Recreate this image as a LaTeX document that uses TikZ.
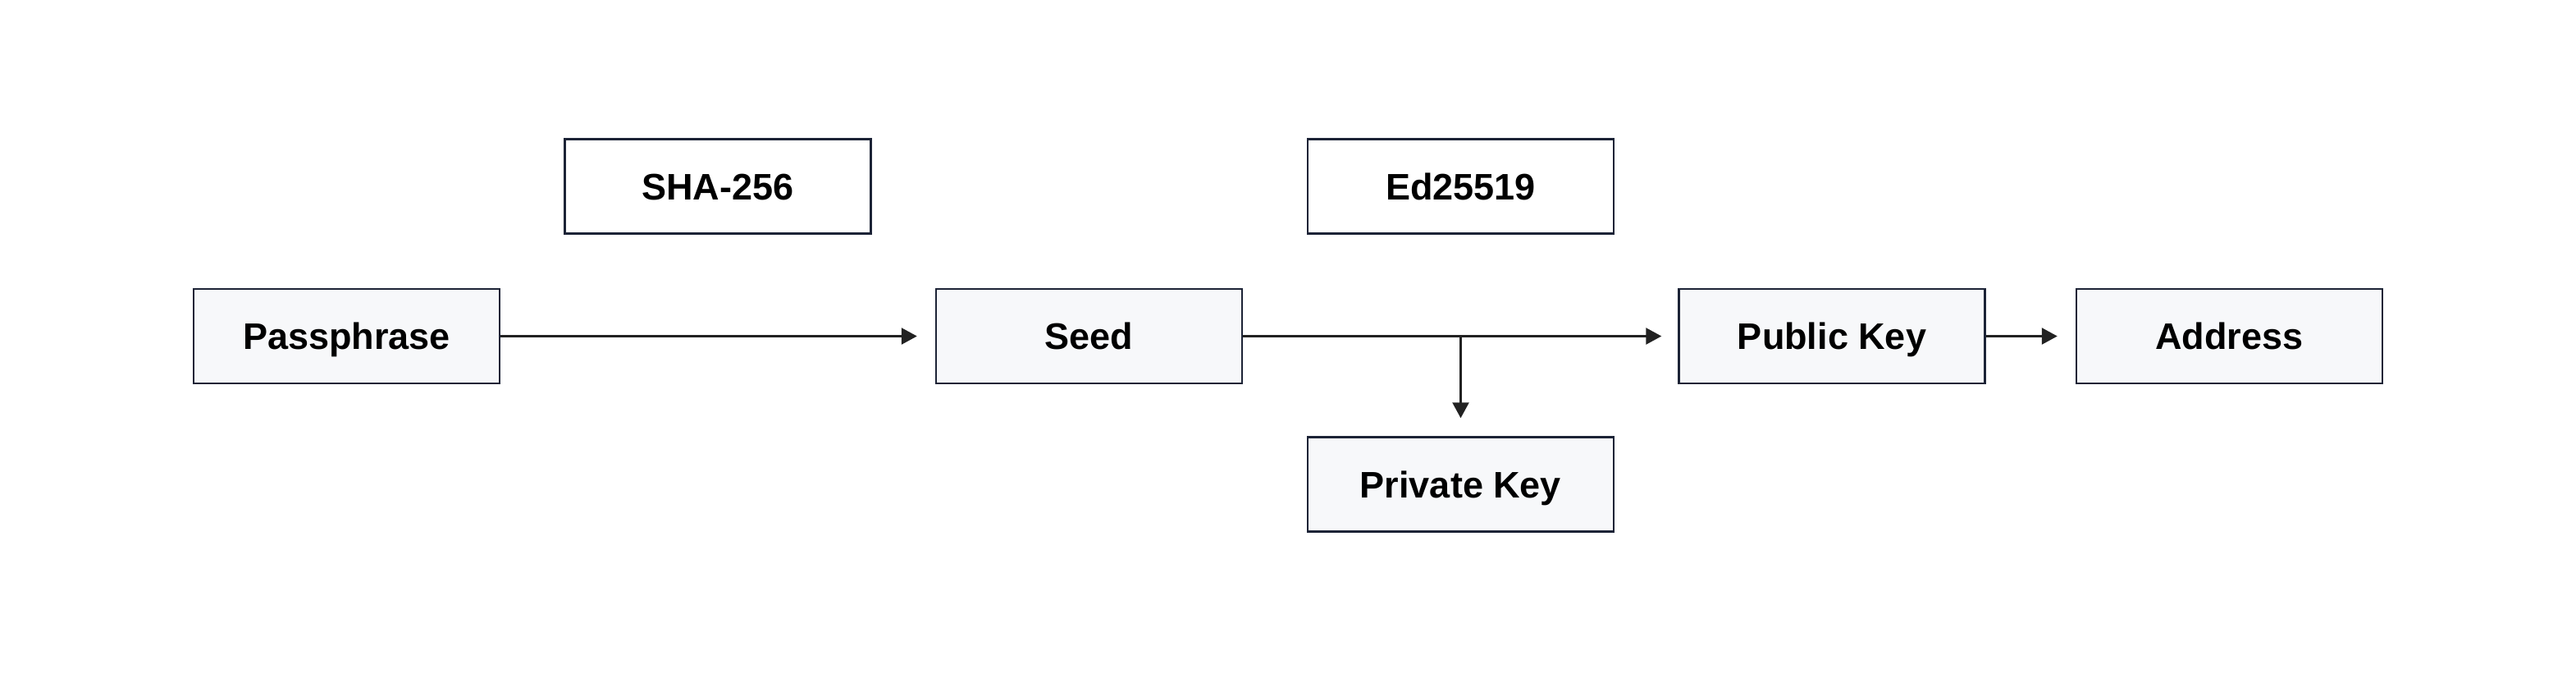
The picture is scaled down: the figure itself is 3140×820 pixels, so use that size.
\documentclass[tikz,border=0pt]{standalone}
\usepackage{fontspec}
\setmainfont{Liberation Sans}
\usetikzlibrary{arrows.meta}
\definecolor{boxfill}{HTML}{F7F8FA}
\definecolor{boxline}{HTML}{1C2336}
\definecolor{arrowc}{HTML}{222222}
\begin{document}
\begin{tikzpicture}[x=1pt,y=-1pt,
  box/.style={draw=boxline, line width=2.5pt, fill=boxfill, minimum width=373pt, minimum height=115pt, inner sep=0pt, text height=32pt, text depth=0pt, font=\fontsize{45}{54}\selectfont\bfseries},
  opbox/.style={box, fill=white},
  conn/.style={draw=arrowc, line width=2.5pt, -{Triangle[length=19pt,width=20pt]}},
  plainline/.style={draw=arrowc, line width=2.5pt}]
\useasboundingbox (0,0) rectangle (3140,820);
\fill[white] (0,0) rectangle (3140,820);
\node[box] (pass) at (422.5,409.5) {Passphrase};
\node[opbox] (sha) at (875,227) {SHA-256};
\node[box] (seed) at (1327.5,409.5) {Seed};
\node[opbox] (ed) at (1780.5,227) {Ed25519};
\node[box] (pub) at (2233,409.5) {Public Key};
\node[box] (addr) at (2717.5,409.5) {Address};
\node[box] (priv) at (1780.5,590) {Private Key};
\coordinate (br) at (priv.north |- seed.east);
\draw[conn, shorten >=22pt] (pass.east) -- (seed.west);
\draw[conn, shorten >=20pt] (seed.east) -- (pub.west);
\draw[conn, shorten >=22pt] (br) -- (priv.north);
\draw[conn, shorten >=22pt] (pub.east) -- (addr.west);
\end{tikzpicture}
\end{document}
